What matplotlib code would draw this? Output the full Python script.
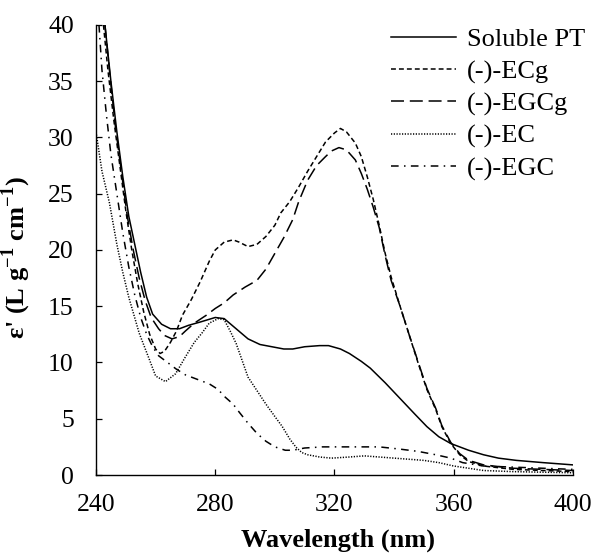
import matplotlib
matplotlib.use("Agg")
import matplotlib.pyplot as plt

plt.rcParams['font.family'] = ['Liberation Serif', 'DejaVu Serif']
plt.rcParams['mathtext.fontset'] = 'custom'
plt.rcParams['mathtext.rm'] = 'Liberation Serif'
plt.rcParams['mathtext.bf'] = 'Liberation Serif:bold'

# Soluble PT (solid)
pt_x = [243, 245, 247, 249, 251, 253, 255, 257, 259, 262, 265, 268, 271, 275, 280, 283, 287, 291,
        295, 299, 303, 306, 310, 315, 318, 322, 325, 329, 332, 337, 342, 347, 351, 355, 359, 365,
        370, 375, 381, 390, 400]
pt_y = [40, 35, 30.5, 26.5, 23, 20.5, 18, 15.8, 14.3, 13.4, 13.0, 13.0, 13.3, 13.6, 14.0, 13.9, 13.0,
        12.1, 11.6, 11.4, 11.2, 11.2, 11.4, 11.5, 11.5, 11.2, 10.8, 10.1, 9.5, 8.2, 6.8, 5.4, 4.3, 3.4,
        2.8, 2.2, 1.8, 1.5, 1.3, 1.1, 0.9]

# (-)-ECg (short dashes)
ecg_x = [242.5, 244, 246, 248, 250, 252, 254, 256, 258, 260, 261.5, 263, 265, 267, 269, 272, 275, 278,
         280, 283, 286, 288, 291, 294, 297, 300, 302, 305, 308, 311, 314, 317, 320, 322, 324, 327, 329,
         331, 333, 335, 337, 339, 342, 345, 348, 351, 354, 356, 359, 362, 365, 370, 380, 390, 400]
ecg_y = [40, 36, 31.5, 27.5, 23.5, 20, 17, 14.5, 12.5, 11.2, 10.8, 11.0, 11.8, 12.8, 14.2, 15.6, 17.2,
         19.0, 20.0, 20.7, 20.9, 20.7, 20.3, 20.5, 21.2, 22.2, 23.3, 24.3, 25.6, 27.0, 28.3, 29.6, 30.4,
         30.8, 30.5, 29.5, 28.3, 26.5, 24.5, 22.2, 19.7, 17.6, 15.0, 12.5, 10.0, 7.6, 5.8, 4.3, 2.8, 1.8,
         1.2, 0.8, 0.5, 0.4, 0.3]

# (-)-EGCg (long dashes)
egcg_x = [243, 244.5, 246.5, 248.5, 250.5, 252.5, 254.5, 256.5, 258.5, 261, 263, 265.5, 268, 270, 273,
          277, 280, 283, 286, 290, 294, 297, 300, 303, 306, 308, 311, 314, 317, 319, 321.5, 324, 327,
          329, 331, 333, 335, 337, 339, 342, 345, 348, 351, 354, 356, 359, 362, 365, 370, 380, 390, 400]
egcg_y = [40, 36, 31, 27, 23, 20, 17.5, 15.5, 14, 13, 12.4, 12.1, 12.3, 12.8, 13.5, 14.2, 14.8, 15.3,
          16.0, 16.7, 17.3, 18.3, 19.7, 21.1, 22.7, 24.3, 26.2, 27.5, 28.3, 28.8, 29.1, 28.9, 28.0, 26.8,
          25.4, 23.8, 22.0, 19.5, 17.3, 15.0, 12.5, 10.1, 7.7, 5.9, 4.4, 2.9, 1.9, 1.3, 0.9, 0.6, 0.5, 0.4]

# (-)-EC (dotted)
ec_x = [240, 242, 244.5, 247, 249, 251, 254.5, 258, 260, 263.3, 266.7, 270, 273, 275.5, 278, 281, 283,
        285, 287, 289, 291, 294, 297, 300, 302.5, 305, 307, 309, 311, 315, 319, 325, 330, 340, 350, 355,
        360, 365, 370, 380, 400]
ec_y = [30.5, 27, 24.2, 20.5, 18, 15.8, 12.6, 10.2, 8.8, 8.3, 9.0, 10.5, 11.8, 12.6, 13.5, 13.9, 13.8,
        12.8, 11.7, 10.2, 8.7, 7.5, 6.3, 5.2, 4.3, 3.2, 2.5, 2.0, 1.8, 1.6, 1.5, 1.6, 1.7, 1.5, 1.3, 1.1,
        0.8, 0.6, 0.4, 0.3, 0.2]

# (-)-EGC (dash-dot)
egc_x = [241, 242, 243.5, 245, 247, 249, 251, 253, 255, 257, 259, 261, 263, 265, 267, 270, 274, 278,
         281, 283, 286, 288, 291, 294, 297, 300, 303.5, 306, 310, 316, 325, 335, 342, 348, 354, 359, 363,
         370, 380, 390, 400]
egc_y = [40, 36, 32, 28.5, 25, 21.5, 18.5, 16, 14, 12.5, 11.4, 10.6, 10.2, 9.8, 9.4, 8.9, 8.5, 8.1,
         7.6, 7.0, 6.3, 5.6, 4.6, 3.7, 3.0, 2.5, 2.2, 2.2, 2.4, 2.5, 2.5, 2.5, 2.3, 2.1, 1.8, 1.5, 1.1,
         0.8, 0.7, 0.6, 0.5]

labels = ["Soluble PT", "(-)-ECg", "(-)-EGCg", "(-)-EC", "(-)-EGC"]
xticks = [240, 280, 320, 360, 400]
yticks = [0, 5, 10, 15, 20, 25, 30, 35, 40]

fig = plt.figure(figsize=(5.94, 5.57), dpi=100)
ax = fig.add_axes([0.1616, 0.1472, 0.803, 0.808])

lw = 1.1
ax.plot(pt_x, pt_y, color='black', lw=lw, linestyle='-', label=labels[0])
ax.plot(ecg_x, ecg_y, color='black', lw=lw, linestyle=(0, (3.2, 2.0)), label=labels[1])
ax.plot(egcg_x, egcg_y, color='black', lw=lw, linestyle=(0, (8.5, 3.8)), label=labels[2])
ax.plot(ec_x, ec_y, color='black', lw=lw, linestyle=(0, (0.8, 1.0)), label=labels[3])
ax.plot(egc_x, egc_y, color='black', lw=lw, linestyle=(0, (5, 3.5, 1, 3.5)), label=labels[4])

ax.set_xlim(240, 400)
ax.set_ylim(0, 40)
ax.set_xticks(xticks)
ax.set_yticks(yticks)
ax.tick_params(direction='in', length=4, width=0.9, labelsize=18.5)
ax.tick_params(axis='y', pad=16)
ax.tick_params(axis='x', pad=14)
for s in ['top', 'right']:
    ax.spines[s].set_visible(False)
for s in ['left', 'bottom']:
    ax.spines[s].set_linewidth(1.0)

ax.set_xlabel('Wavelength (nm)', fontsize=19, fontweight='bold')
ax.set_ylabel(r"ε' (L g$^{\mathbf{-1}}$ cm$^{\mathbf{-1}}$)", fontsize=19, fontweight='bold')
ax.xaxis.set_label_coords(0.507, -0.118)
ax.yaxis.set_label_coords(-0.132, 0.482)

leg = ax.legend(loc='upper left', bbox_to_anchor=(0.597, 1.017), frameon=False, fontsize=19,
                handlelength=2.46, handletextpad=0.42, labelspacing=0.32, borderaxespad=0.0)

fig.savefig('out.png', dpi=100)
